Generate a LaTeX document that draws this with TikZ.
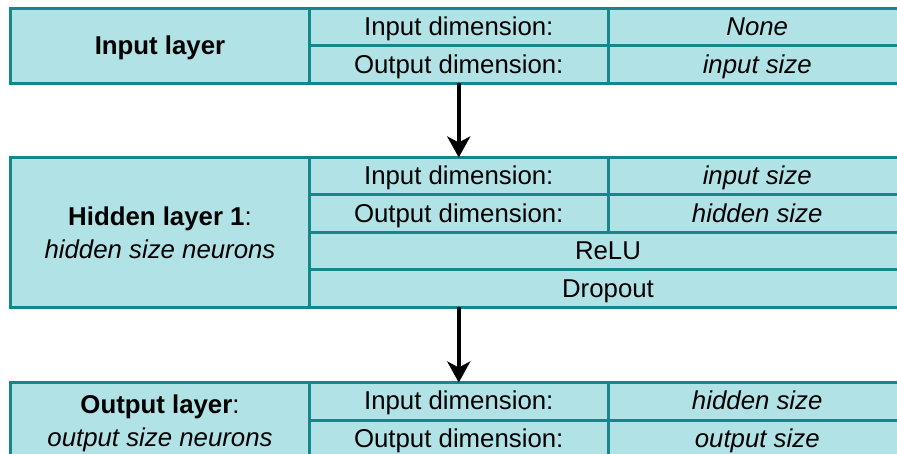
\documentclass[tikz,border=0pt]{standalone}
\usepackage{fontspec}
\setmainfont{Liberation Sans}
\usetikzlibrary{arrows.meta}
\definecolor{cellfill}{HTML}{B0E2E6}
\definecolor{cellline}{HTML}{17868A}
\tikzset{
  cell/.style={draw=cellline, fill=cellfill, line width=3pt, rectangle,
    inner sep=0pt, outer sep=0pt, anchor=north west, align=center,
    font=\fontsize{25.8}{33}\selectfont, text=black},
  row/.style={cell, minimum height=37.5pt, text height=21pt, text depth=4pt},
  half/.style={row, minimum width=298.5pt},
  full/.style={row, minimum width=597pt},
  flow/.style={draw=black, line width=3.5pt,
    -{Stealth[length=21pt, width=23pt, inset=6pt]}}
}
\begin{document}
\begin{tikzpicture}[x=1pt, y=-1pt]
  \useasboundingbox (0,0) rectangle (897,454);
  \clip (0,0) rectangle (897,454);
  % column edges: 10.5, 309.5, 608, 906.5 ; row height 37.5
  % input layer
  \node[cell, minimum width=299pt, minimum height=75pt, text height=21pt, text depth=4pt] (inname) at (10.5,8.5) {\textbf{Input layer}};
  \node[half] (i1) at (309.5,8.5) {Input dimension:};
  \node[half] (i1v) at (608,8.5) {\textit{None}};
  \node[half] (i2) at (309.5,46) {Output dimension:};
  \node[half] (i2v) at (608,46) {\textit{input size}};
  % hidden layer
  \node[cell, minimum width=299pt, minimum height=150pt] (hname) at (10.5,157.5) {\textbf{Hidden layer 1}:\\\textit{hidden size neurons}};
  \node[half] (h1) at (309.5,157.5) {Input dimension:};
  \node[half] (h1v) at (608,157.5) {\textit{input size}};
  \node[half] (h2) at (309.5,195) {Output dimension:};
  \node[half] (h2v) at (608,195) {\textit{hidden size}};
  \node[full] (h3) at (309.5,232.5) {ReLU};
  \node[full] (h4) at (309.5,270) {Dropout};
  % output layer (runs past the lower edge)
  \node[cell, minimum width=299pt, minimum height=82pt] (oname) at (10.5,382.5) {\textbf{Output layer}:\\\textit{output size neurons}};
  \node[half] (o1) at (309.5,382.5) {Input dimension:};
  \node[half] (o1v) at (608,382.5) {\textit{hidden size}};
  \node[half] (o2) at (309.5,420) {Output dimension:};
  \node[half] (o2v) at (608,420) {\textit{output size}};
  % connectors between layers
  \draw[flow] (i2.south) -- (h1.north);
  \draw[flow] (h4.south -| h1.south) -- (o1.north);
\end{tikzpicture}
\end{document}
